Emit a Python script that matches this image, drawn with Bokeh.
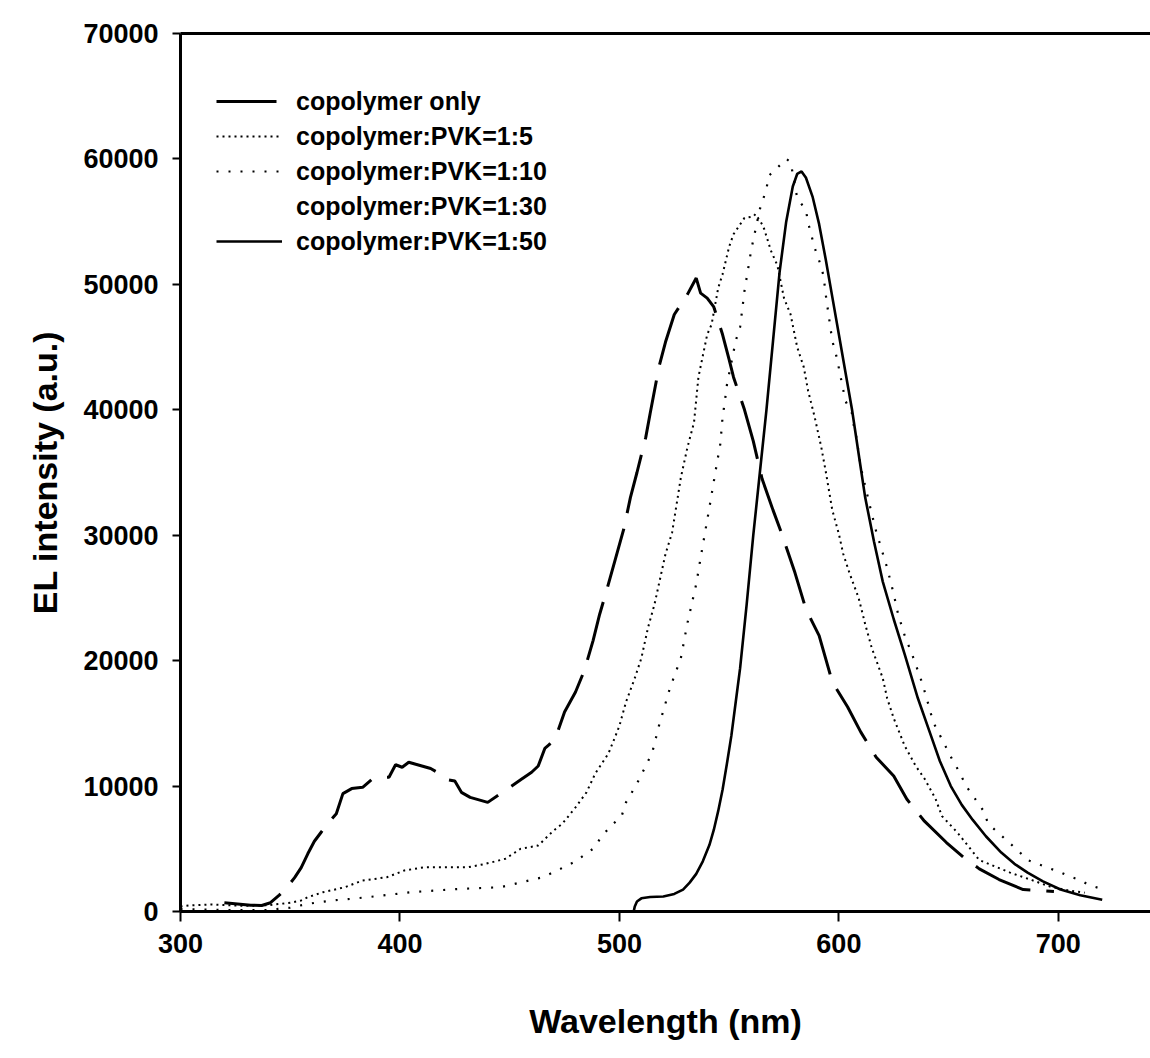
from bokeh.plotting import figure
from bokeh.models import Range1d, FixedTicker, LinearAxis, Legend, LegendItem
from bokeh.embed import file_html
from bokeh.resources import INLINE

FONT = "Liberation Sans"

# copolymer only (long dashed)
only_x = [320, 326, 332, 337, 341, 345, 348, 352, 355, 358, 361, 364, 367, 371, 374, 378, 383, 387, 392, 395,
          398, 401, 404, 406, 410, 414, 418, 422, 425, 428, 432, 436, 440, 445, 450, 455, 460, 463, 466, 468,
          471, 475, 480, 484, 488, 491, 494, 498, 502, 505, 508, 512, 514, 518, 521, 525, 528, 531, 535, 537,
          540, 543, 547, 550, 552, 557, 561, 565, 570, 574, 580, 585, 591, 597, 604, 610, 617, 625, 631, 639,
          649, 657, 664, 673, 684, 690, 698]
only_y = [700, 600, 500, 480, 700, 1300, 1800, 2700, 3500, 4600, 5600, 6300, 7000, 7800, 9400, 9800, 9900, 10500, 10700, 10700,
          11700, 11500, 11900, 11800, 11600, 11400, 11000, 10500, 10400, 9500, 9100, 8900, 8700, 9300, 9900, 10500, 11100, 11600, 13000, 13300,
          13900, 15900, 17500, 19200, 21600, 23700, 25500, 28000, 30500, 33000, 35000, 37800, 39700, 43400, 45400, 47600, 48400, 49200, 50500, 49300,
          48900, 48200, 46000, 44000, 42600, 40000, 37500, 34500, 32000, 30100, 27000, 24100, 22000, 18300, 16300, 14300, 12300, 10800, 8950, 7200,
          5500, 4300, 3400, 2550, 1750, 1700, 1600]

# copolymer:PVK=1:5 (dense dots)
r5_x = [300, 304, 314, 322, 330, 340, 350, 355, 358, 365, 375, 383, 394, 402, 411, 421, 431, 439, 448, 455,
        463, 470, 474, 480, 485, 489, 495, 498, 500, 503, 507, 510, 513, 516, 519, 521, 524, 528, 531, 534,
        536, 540, 542, 545, 547, 550, 552, 557, 561, 562, 565, 566, 569, 572, 575, 578, 581, 584, 586, 589,
        592, 594, 597, 600, 602, 605, 609, 612, 615, 620, 622, 625, 630, 635, 639, 644, 647, 654, 659, 664,
        678, 688, 696, 704, 712]
r5_y = [400, 480, 560, 500, 450, 500, 700, 880, 1140, 1540, 1940, 2470, 2730, 3270, 3530, 3530, 3530, 3800, 4200, 5000,
        5260, 6450, 7000, 8300, 9500, 11000, 12600, 13900, 14800, 16700, 18600, 20200, 22600, 24500, 26900, 28500, 30200, 34600, 37000, 39000,
        42600, 46000, 46800, 49700, 50800, 53000, 54000, 55300, 55400, 55600, 54800, 54400, 52700, 51500, 48900, 47600, 45000, 43400, 41500, 39400,
        37000, 35100, 32000, 30100, 28500, 26900, 25000, 22900, 21000, 18600, 17000, 15400, 13200, 11600, 10600, 9000, 7600, 6300, 5200, 4100,
        3100, 2500, 2000, 1700, 1500]

# copolymer:PVK=1:10 (sparse dots)
r10_x = [300, 310, 320, 330, 340, 350, 358, 369, 378, 392, 405, 428, 446, 465, 472, 480, 488, 492, 496, 501,
         503, 508, 512, 515, 518, 523, 528, 531, 535, 537, 541, 544, 546, 547, 548, 549, 553, 555, 557, 559,
         560, 564, 567, 568, 572, 576, 578, 581, 585, 586, 589, 591, 593, 594, 597, 599, 603, 606, 607, 608,
         610, 615, 617, 622, 625, 627, 630, 634, 638, 640, 643, 652, 655, 658, 662, 666, 668, 682, 686, 695,
         700, 705, 710, 714, 718, 720]
r10_y = [200, 150, 120, 100, 120, 300, 610, 880, 1010, 1270, 1540, 1810, 1940, 2730, 3300, 4000, 5000, 6000, 6800, 7600,
         8700, 10200, 11600, 12700, 14800, 17800, 20200, 23000, 26100, 28200, 32200, 35300, 37300, 39400, 40600, 42000, 45500, 46600, 49500, 51600,
         52700, 56000, 57600, 58650, 59300, 60000, 59760, 56900, 55900, 54900, 52900, 51900, 50700, 49200, 45500, 44200, 40700, 39700, 38500, 37800,
         35400, 31700, 30300, 27400, 25300, 23700, 22000, 20200, 18200, 17000, 15100, 12000, 11100, 10000, 9000, 8000, 7000, 4800, 4100, 3500,
         3200, 2800, 2500, 2100, 1900, 1500]

# copolymer:PVK=1:30 (not visible in the figure)
r30_x = []
r30_y = []

# copolymer:PVK=1:50 (solid)
r50_x = [506.5, 507, 508, 510, 514, 520, 525, 529, 532, 535, 538, 541, 543, 545, 547, 549, 551, 553, 555, 558,
         561, 564, 567, 570, 573, 576, 579, 581, 583, 585, 588, 591, 594, 597, 600, 603, 606, 609, 612, 616,
         620, 625, 630, 636, 642, 646, 651, 656, 661, 667, 674, 680, 686, 693, 701, 710, 720]
r50_y = [0, 400, 800, 1050, 1150, 1200, 1400, 1750, 2300, 3000, 4000, 5300, 6500, 8000, 9700, 11800, 14000, 16700, 19400, 24500,
         30000, 35000, 40000, 45500, 51000, 55000, 57800, 58800, 59000, 58500, 57000, 54800, 52000, 49000, 46000, 43000, 40000, 36500, 33000, 29500,
         26300, 23300, 20500, 17000, 14000, 12000, 10000, 8500, 7300, 6000, 4700, 3800, 3100, 2400, 1750, 1300, 930]

labels = ["copolymer only", "copolymer:PVK=1:5", "copolymer:PVK=1:10", "copolymer:PVK=1:30", "copolymer:PVK=1:50"]
x_ticks = [300, 400, 500, 600, 700]
y_ticks = [0, 10000, 20000, 30000, 40000, 50000, 60000, 70000]

p = figure(width=1150, height=1058, output_backend="svg", toolbar_location=None,
           x_range=Range1d(300, 742), y_range=Range1d(0, 70000),
           min_border_left=180, min_border_right=0, min_border_top=33, min_border_bottom=147)
p.outline_line_color = None
p.grid.visible = False
p.background_fill_color = "white"
p.border_fill_color = "white"

r_only = p.line(only_x, only_y, line_color="black", line_width=3, line_dash="60 16")
r5 = p.line(r5_x, r5_y, line_color="black", line_width=2, line_dash="2 4")
r10 = p.line(r10_x, r10_y, line_color="black", line_width=2.2, line_dash="2 10")
r30 = p.line(r30_x, r30_y, line_color="black", line_width=2, line_alpha=0)
r50 = p.line(r50_x, r50_y, line_color="black", line_width=2.6)

for ax in (p.xaxis[0], p.yaxis[0]):
    ax.axis_line_width = 3
    ax.major_tick_line_width = 2
    ax.minor_tick_line_color = None
    ax.major_tick_in = 0
    ax.major_label_text_font = FONT
    ax.major_label_text_font_style = "bold"
    ax.major_label_text_font_size = "27px"
    ax.major_label_text_color = "black"
    ax.axis_label_text_font = FONT
    ax.axis_label_text_font_style = "bold"
    ax.axis_label_text_color = "black"

p.xaxis.ticker = FixedTicker(ticks=x_ticks)
p.yaxis.ticker = FixedTicker(ticks=y_ticks)
p.xaxis.major_tick_out = 10
p.yaxis.major_tick_out = 8
p.xaxis.major_label_standoff = 12
p.yaxis.major_label_standoff = 14
p.xaxis.axis_label = "Wavelength (nm)"
p.yaxis.axis_label = "EL intensity (a.u.)"
p.xaxis.axis_label_text_font_size = "34px"
p.yaxis.axis_label_text_font_size = "34px"
p.xaxis.axis_label_standoff = 46
p.yaxis.axis_label_standoff = 16

top = LinearAxis(ticker=FixedTicker(ticks=[]), axis_line_width=3,
                 major_tick_line_color=None, minor_tick_line_color=None,
                 major_label_text_font_size="0px")
p.add_layout(top, "above")

legend = Legend(items=[LegendItem(label=labels[0], renderers=[r_only]),
                       LegendItem(label=labels[1], renderers=[r5]),
                       LegendItem(label=labels[2], renderers=[r10]),
                       LegendItem(label=labels[3], renderers=[r30]),
                       LegendItem(label=labels[4], renderers=[r50])],
                location=(36, 655), border_line_color=None, background_fill_alpha=0,
                padding=0, margin=0, spacing=5, glyph_width=66, glyph_height=30,
                label_height=30, label_standoff=14,
                label_text_font=FONT, label_text_font_style="bold",
                label_text_font_size="25px", label_text_color="black")
p.add_layout(legend, "center")

open("out.html", "w").write(file_html(p, INLINE))
